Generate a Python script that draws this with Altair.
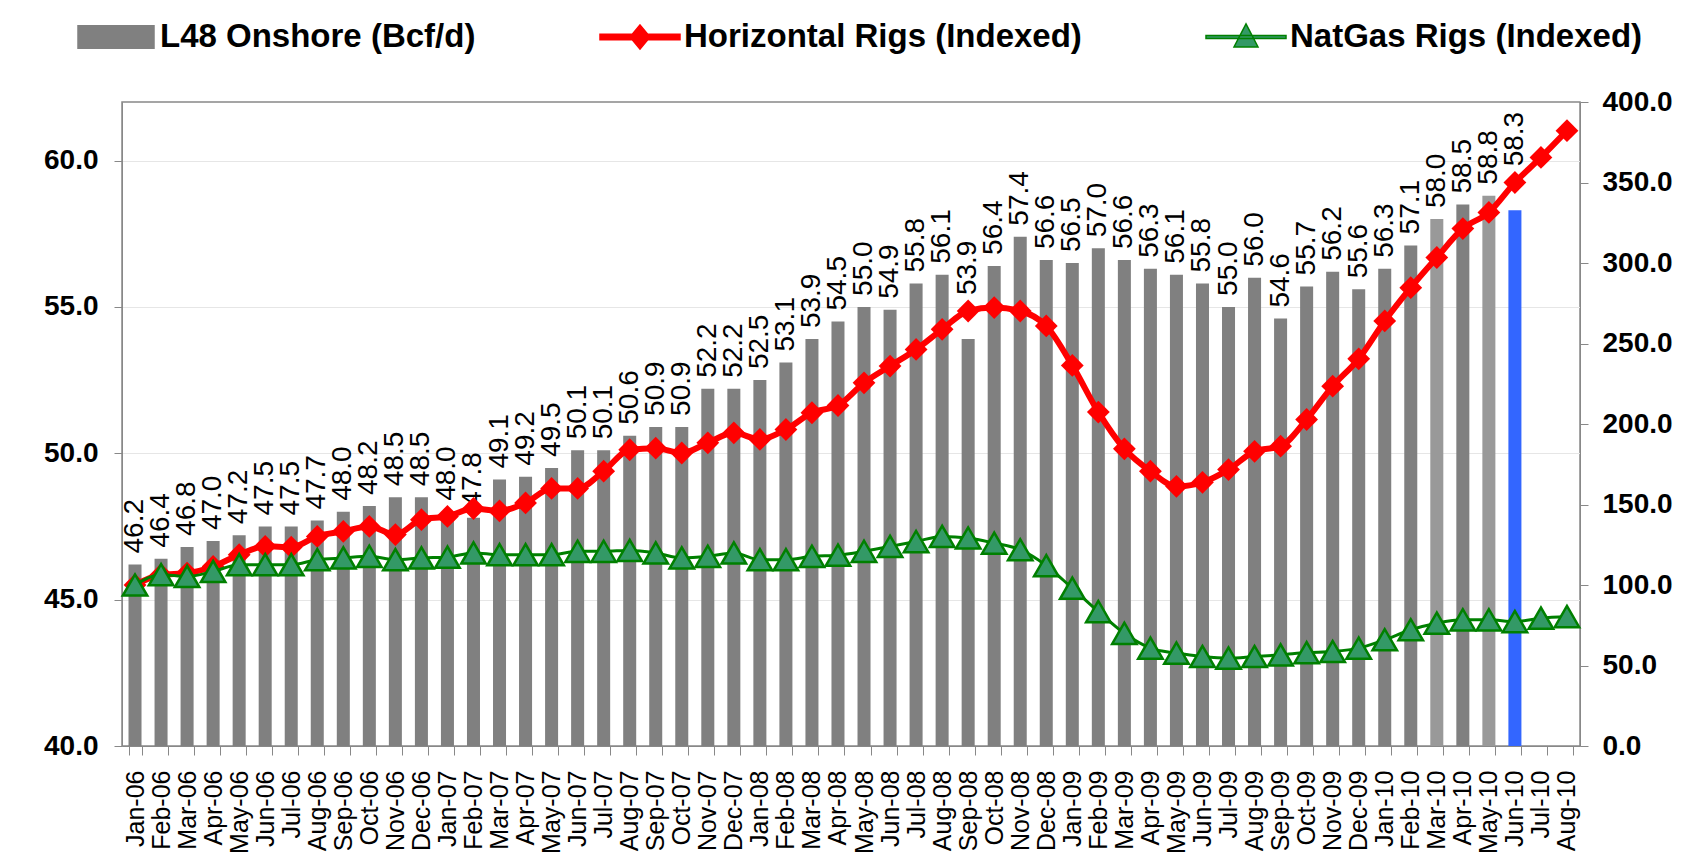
import altair as alt
import pandas as pd

months = [
    "Jan-06", "Feb-06", "Mar-06", "Apr-06", "May-06", "Jun-06", "Jul-06", "Aug-06", "Sep-06", "Oct-06", "Nov-06", "Dec-06",
    "Jan-07", "Feb-07", "Mar-07", "Apr-07", "May-07", "Jun-07", "Jul-07", "Aug-07", "Sep-07", "Oct-07", "Nov-07", "Dec-07",
    "Jan-08", "Feb-08", "Mar-08", "Apr-08", "May-08", "Jun-08", "Jul-08", "Aug-08", "Sep-08", "Oct-08", "Nov-08", "Dec-08",
    "Jan-09", "Feb-09", "Mar-09", "Apr-09", "May-09", "Jun-09", "Jul-09", "Aug-09", "Sep-09", "Oct-09", "Nov-09", "Dec-09",
    "Jan-10", "Feb-10", "Mar-10", "Apr-10", "May-10", "Jun-10", "Jul-10", "Aug-10",
]

l48_onshore = [
    46.2, 46.4, 46.8, 47.0, 47.2, 47.5, 47.5, 47.7, 48.0, 48.2, 48.5, 48.5,
    48.0, 47.8, 49.1, 49.2, 49.5, 50.1, 50.1, 50.6, 50.9, 50.9, 52.2, 52.2,
    52.5, 53.1, 53.9, 54.5, 55.0, 54.9, 55.8, 56.1, 53.9, 56.4, 57.4, 56.6,
    56.5, 57.0, 56.6, 56.3, 56.1, 55.8, 55.0, 56.0, 54.6, 55.7, 56.2, 55.6,
    56.3, 57.1, 58.0, 58.5, 58.8, 58.3,
]

horizontal_rigs = [
    100, 106.4, 107.4, 111.5, 118.8, 124, 123.5, 130.2, 133.3, 136.4, 131.3, 140.6,
    142.6, 147.5, 146, 151, 160, 160, 170.7, 184, 185, 182, 188.3, 194.5,
    190.4, 196.6, 207, 211.5, 225.6, 236, 246.3, 258.8, 270.2, 272.3, 270.2, 260.9,
    236.4, 207.4, 184.6, 170.7, 161.3, 163.8, 171.7, 183, 186.2, 202.8, 223.5, 240.5,
    264, 284.7, 303.4, 321.4, 331.4, 350, 365.6, 382.2,
]

natgas_rigs = [
    100, 106.4, 105.3, 108.4, 112.6, 112.6, 112.6, 115.7, 116.8, 117.8, 115.7, 116.8,
    117.3, 119.9, 118.8, 118.8, 118.8, 120.9, 120.9, 121.5, 119.9, 116.8, 117.8, 119.9,
    115.7, 115.7, 117.8, 118.5, 120.9, 124, 127, 130.2, 129.2, 126, 121.9, 112,
    98, 83.5, 70, 60.8, 57.7, 55.6, 54.6, 55.6, 56.6, 58, 58.7, 60.8,
    66, 72.2, 76.3, 78.4, 78.4, 77.3, 79.4, 80.4,
]

light_months = ["Mar-10", "May-10"]
latest_month = "Jun-10"
raised_label_months = ["Sep-08", "Jun-10"]
series_names = ["L48 Onshore (Bcf/d)", "Horizontal Rigs (Indexed)", "NatGas Rigs (Indexed)"]

left_ticks = [40, 45, 50, 55, 60]
right_ticks = [0, 50, 100, 150, 200, 250, 300, 350, 400]
left_min = 40

FONT = "Liberation Sans"

bars_df = pd.DataFrame({"month": months[: len(l48_onshore)], "bcf": l48_onshore})
bars_df["kind"] = [
    "latest" if m == latest_month else ("light" if m in light_months else "base")
    for m in bars_df["month"]
]
bars_df["raised"] = bars_df["month"].isin(raised_label_months)

lines_df = pd.DataFrame({"month": months, "hz": horizontal_rigs, "ng": natgas_rigs})
legend_df = pd.DataFrame({"series": series_names})

x_axis = alt.Axis(
    title=None, labelAngle=270, labelFontSize=25, labelColor="black", labelFont=FONT,
    tickBand="extent", tickSize=9, labelPadding=15, domainColor="#888888",
    tickColor="#888888", labelOverlap=False,
)
x_enc = alt.X(
    "month:N",
    scale=alt.Scale(domain=months, paddingInner=0.5, paddingOuter=0.25),
    axis=x_axis,
)

yl = alt.Y(
    "bcf:Q",
    scale=alt.Scale(domain=[40, 62], nice=False, zero=False),
    axis=alt.Axis(
        title=None, orient="left", values=left_ticks, format=".1f", labelFontSize=28,
        labelFontWeight="bold", labelColor="black", labelFont=FONT, grid=True,
        gridColor="#e6e6e6", tickSize=8, labelPadding=16, domainColor="#888888",
        tickColor="#888888",
    ),
)

bars = alt.Chart().mark_bar().encode(
    x=x_enc,
    y=yl,
    y2=alt.datum(left_min),
    color=alt.Color(
        "kind:N",
        scale=alt.Scale(domain=["base", "light", "latest"], range=["#808080", "#999999", "#3366ff"]),
        legend=None,
    ),
)

label_base = dict(angle=270, align="left", baseline="middle", fontSize=28, font=FONT, color="black")
labels_normal = alt.Chart().mark_text(dx=11, **label_base).encode(
    x=x_enc, y=yl, text=alt.Text("bcf:Q", format=".1f")
).transform_filter("!datum.raised")
labels_raised = alt.Chart().mark_text(dx=44, **label_base).encode(
    x=x_enc, y=yl, text=alt.Text("bcf:Q", format=".1f")
).transform_filter("datum.raised")

left = alt.layer(bars, labels_normal, labels_raised, data=bars_df)

r_axis = alt.Axis(
    title=None, orient="right", values=right_ticks, format=".1f", labelFontSize=28,
    labelFontWeight="bold", labelColor="black", labelFont=FONT, grid=False,
    tickSize=8, labelPadding=14, domainColor="#888888", tickColor="#888888",
)
r_scale = alt.Scale(domain=[0, 400], nice=False)

red_line = alt.Chart().mark_line(color="#ff0000", strokeWidth=6, interpolate="monotone").encode(
    x=x_enc, y=alt.Y("hz:Q", scale=r_scale, axis=r_axis)
)
red_pts = alt.Chart().mark_point(shape="diamond", filled=True, size=520, color="#ff0000", opacity=1).encode(
    x=x_enc, y=alt.Y("hz:Q", scale=r_scale, axis=r_axis)
)
green_line = alt.Chart().mark_line(color="#008000", strokeWidth=3, interpolate="monotone").encode(
    x=x_enc, y=alt.Y("ng:Q", scale=r_scale, axis=r_axis)
)
green_pts = alt.Chart().mark_point(
    shape="triangle-up", filled=True, size=600, fill="#339966", stroke="#008000", strokeWidth=2.5, opacity=1
).encode(x=x_enc, y=alt.Y("ng:Q", scale=r_scale, axis=r_axis))

right = alt.layer(red_line, red_pts, green_line, green_pts, data=lines_df)

legend_paths = [
    "M-0.95,-0.28H0.95V0.28H-0.95Z",
    "M-1,-0.07H1V0.07H-1Z M0,-0.3L0.25,0L0,0.3L-0.25,0Z",
    "M-1,-0.04H1V0.04H-1Z M0,-0.33L0.3,0.25L-0.3,0.25Z",
]
leg = alt.Legend(
    title=None, orient="none", legendX=-47, legendY=-106, direction="horizontal",
    symbolSize=6400, labelFontSize=33, labelFontWeight="bold", labelFont=FONT,
    labelColor="black", labelOffset=3, columnPadding=121, symbolStrokeWidth=1.5,
    padding=0, labelLimit=1000, symbolOpacity=1,
)
legend_layer = alt.Chart(legend_df).mark_point(filled=True, strokeWidth=1.5, opacity=1).encode(
    shape=alt.Shape("series:N", scale=alt.Scale(domain=series_names, range=legend_paths), legend=leg),
    fill=alt.Fill("series:N", scale=alt.Scale(domain=series_names, range=["#808080", "#ff0000", "#339966"]), legend=leg),
    stroke=alt.Stroke("series:N", scale=alt.Scale(domain=series_names, range=["#808080", "#ff0000", "#008000"]), legend=leg),
).transform_filter("false")

chart = (
    alt.layer(left, right, legend_layer)
    .resolve_scale(y="independent")
    .properties(
        width=1458,
        height=644,
        padding={"left": 114, "top": 94, "right": 112, "bottom": 111},
        autosize=alt.AutoSizeParams(type="none"),
    )
    .configure(font=FONT)
    .configure_view(stroke="#888888", strokeWidth=1.5)
)

chart.save("out.html", embed_options={"renderer": "svg", "actions": False})
